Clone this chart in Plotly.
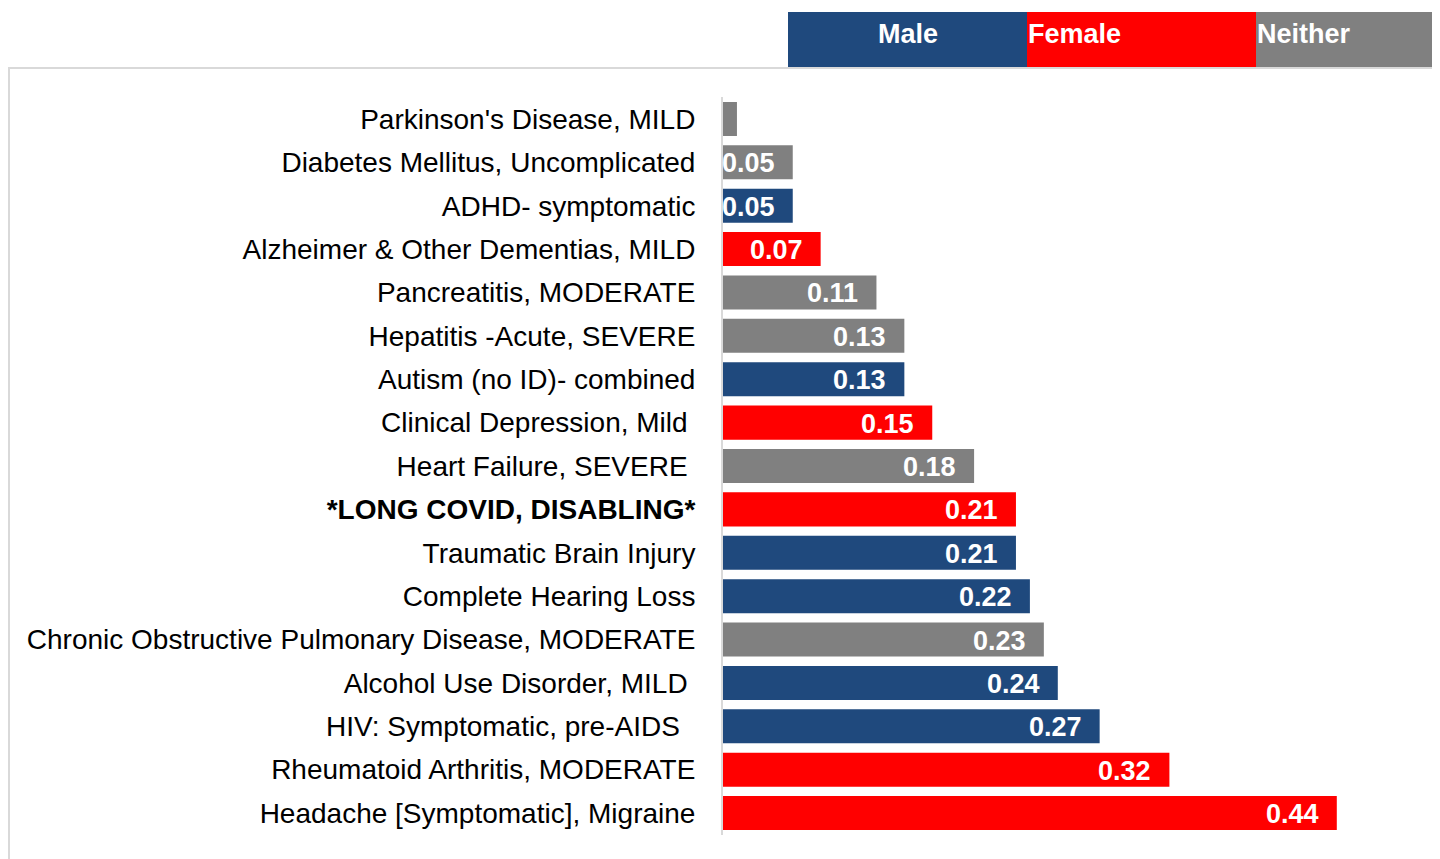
import plotly.graph_objects as go

categories = [
    "Parkinson's Disease, MILD",
    "Diabetes Mellitus, Uncomplicated",
    "ADHD- symptomatic",
    "Alzheimer & Other Dementias, MILD",
    "Pancreatitis, MODERATE",
    "Hepatitis -Acute, SEVERE",
    "Autism (no ID)- combined",
    "Clinical Depression, Mild\u00a0",
    "Heart Failure, SEVERE\u00a0",
    "<b>*LONG COVID, DISABLING*</b>",
    "Traumatic Brain Injury",
    "Complete Hearing Loss",
    "Chronic Obstructive Pulmonary Disease, MODERATE",
    "Alcohol Use Disorder, MILD\u00a0",
    "HIV: Symptomatic, pre-AIDS\u00a0\u00a0",
    "Rheumatoid Arthritis, MODERATE",
    "Headache [Symptomatic], Migraine",
]
values = [0.01, 0.05, 0.05, 0.07, 0.11, 0.13, 0.13, 0.15, 0.18, 0.21, 0.21, 0.22, 0.23, 0.24, 0.27, 0.32, 0.44]
groups = ["Neither", "Neither", "Male", "Female", "Neither", "Neither", "Male", "Female", "Neither",
          "Female", "Male", "Male", "Neither", "Male", "Male", "Female", "Female"]
value_labels = ["", "0.05", "0.05", "0.07", "0.11", "0.13", "0.13", "0.15", "0.18",
                "0.21", "0.21", "0.22", "0.23", "0.24", "0.27", "0.32", "0.44"]
legend_names = ["Male", "Female", "Neither"]
group_colors = {"Male": "#1F497D", "Female": "#FF0000", "Neither": "#808080"}

# page has an 8px body margin; figure is sized/positioned to compensate
OFF = 8
W, H = 1440 - OFF, 859 - OFF
FONT = "Liberation Sans, Arial, sans-serif"

fig = go.Figure()
fig.add_trace(go.Bar(
    x=values, y=categories, orientation="h",
    marker=dict(color=[group_colors[g] for g in groups], line=dict(width=0)),
    hoverinfo="skip", showlegend=False,
))

# value labels inside bar ends
for c, v, t in zip(categories, values, value_labels):
    if t:
        fig.add_annotation(x=v, y=c, xref="x", yref="y", text="<b>%s</b>" % t,
                           showarrow=False, xanchor="right", yanchor="middle",
                           xshift=-16, yshift=-1,
                           font=dict(family=FONT, size=27, color="white"))

# plot geometry (page pixel coords minus offset)
x0_px = 723 - OFF
px_per_unit = 1395.0
top_px, bot_px = 97.3 - OFF, 834.7 - OFF

shapes = []
# outer light border
shapes.append(dict(type="rect", xref="paper", yref="paper",
                   x0=1 / W, x1=1.02, y0=-0.02, y1=1 - (68 - OFF) / H,
                   line=dict(color="#D9D9D9", width=2), fillcolor="rgba(0,0,0,0)", layer="below"))

# header legend boxes
box_edges = [788 - OFF, 1027 - OFF, 1256 - OFF, 1440 - OFF]
hy0, hy1, hyc = 67 - OFF, 12 - OFF, 34 - OFF
for i, name in enumerate(legend_names):
    shapes.append(dict(type="rect", xref="paper", yref="paper",
                       x0=box_edges[i] / W, x1=box_edges[i + 1] / W,
                       y0=1 - hy0 / H, y1=1 - hy1 / H,
                       line=dict(width=0), fillcolor=group_colors[name], layer="above"))
    if i == 0:
        fig.add_annotation(x=(box_edges[0] + box_edges[1]) / 2 / W, y=1 - hyc / H,
                           xref="paper", yref="paper", text="<b>%s</b>" % name,
                           showarrow=False, xanchor="center", yanchor="middle",
                           font=dict(family=FONT, size=27, color="white"))
    else:
        fig.add_annotation(x=(box_edges[i] + 1) / W, y=1 - hyc / H,
                           xref="paper", yref="paper", text="<b>%s</b>" % name,
                           showarrow=False, xanchor="left", yanchor="middle", xshift=-2,
                           font=dict(family=FONT, size=27, color="white"))

fig.update_layout(
    width=W, height=H,
    margin=dict(l=0, r=0, t=0, b=0),
    paper_bgcolor="white", plot_bgcolor="white",
    bargap=0.216,
    shapes=shapes,
    font=dict(family=FONT, size=28, color="black"),
    xaxis=dict(domain=[x0_px / W, 1], range=[0, (W - x0_px) / px_per_unit],
               showgrid=False, zeroline=False, showticklabels=False, showline=False),
    yaxis=dict(domain=[1 - bot_px / H, 1 - top_px / H],
               type="category", categoryorder="array", categoryarray=categories,
               range=[len(categories) - 0.5, -0.5],
               showgrid=False, zeroline=False,
               showline=True, linecolor="#D9D9D9", linewidth=2,
               ticks="", ticklabelstandoff=20,
               tickfont=dict(family=FONT, size=28, color="black")),
)

fig.write_html("out.html")
